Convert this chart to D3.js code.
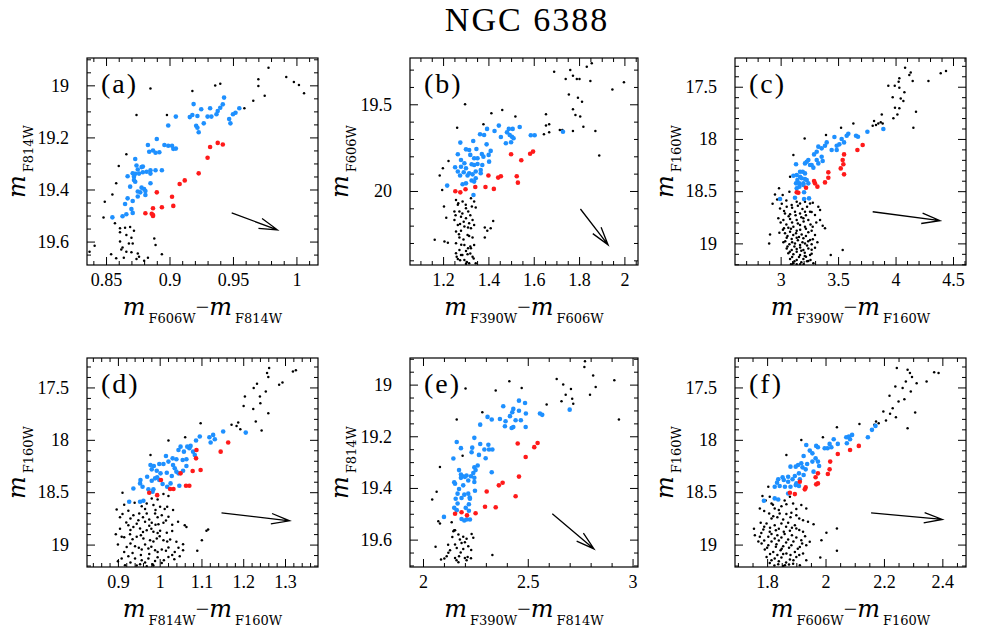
<!DOCTYPE html>
<html>
<head>
<meta charset="utf-8">
<script src="https://cdn.jsdelivr.net/npm/d3@7"></script>
<style>
  body { margin: 0; background: #fff; }
  svg { display: block; }
</style>
</head>
<body>
<script>
// ---- panel setup ----
const panelIds = ['a', 'b', 'c', 'd', 'e', 'f'];
const xFilters = [['F606W', 'F814W'], ['F390W', 'F606W'], ['F390W', 'F160W'],
                  ['F814W', 'F160W'], ['F390W', 'F814W'], ['F606W', 'F160W']];
const yFilters = ['F814W', 'F606W', 'F160W', 'F160W', 'F814W', 'F160W'];
const xDomains = [[0.835, 1.017], [1.054, 2.06], [2.603, 4.613], [0.826, 1.379], [1.938, 3.026], [1.69, 2.481]];
const yDomains = [[18.895, 19.69], [19.233, 20.427], [17.225, 19.207], [17.219, 19.214], [18.897, 19.706], [17.219, 19.214]];
const xTicks = [[0.85, 0.9, 0.95, 1], [1.2, 1.4, 1.6, 1.8, 2], [3, 3.5, 4, 4.5], [0.9, 1, 1.1, 1.2, 1.3], [2, 2.5, 3], [1.8, 2, 2.2, 2.4]];
const xMinor = [0.01, 0.05, 0.1, 0.02, 0.1, 0.05];
const yTicks = [[19, 19.2, 19.4, 19.6], [19.5, 20], [17.5, 18, 18.5, 19], [17.5, 18, 18.5, 19], [19, 19.2, 19.4, 19.6], [17.5, 18, 18.5, 19]];
const yMinor = [0.05, 0.1, 0.1, 0.1, 0.05, 0.1];

// ---- stars: [colour, magnitude] ----
const aBlack = [[0.885,19.012],[0.918,19.022],[0.936,19.001],[0.940,18.994],[0.970,18.977],[0.970,19.003],[0.975,19.040],[0.966,19.059],[0.959,19.088],[0.978,18.932],[0.992,18.968],[1.002,18.999],[1.006,19.03],[0.998,18.987],[0.874,19.114],[0.898,19.114],[0.866,19.265],[0.860,19.310],[0.858,19.376],[0.855,19.419],[0.849,19.447],[0.848,19.508],[0.857,19.530],[0.861,19.549],[0.865,19.547],[0.869,19.544],[0.872,19.558],[0.861,19.564],[0.866,19.575],[0.870,19.585],[0.861,19.600],[0.868,19.607],[0.871,19.607],[0.863,19.623],[0.862,19.630],[0.866,19.639],[0.888,19.588],[0.889,19.613],[0.854,19.649],[0.858,19.664],[0.864,19.662],[0.870,19.641],[0.875,19.646],[0.876,19.658],[0.874,19.667],[0.880,19.674],[0.883,19.662],[0.894,19.649],[0.841,19.616],[0.837,19.639]];
const aBlue = [[0.919,19.072],[0.905,19.120],[0.916,19.122],[0.918,19.114],[0.922,19.118],[0.921,19.155],[0.922,19.163],[0.923,19.180],[0.927,19.146],[0.930,19.120],[0.932,19.088],[0.925,19.092],[0.933,19.120],[0.937,19.111],[0.938,19.099],[0.940,19.086],[0.942,19.073],[0.943,19.047],[0.947,19.129],[0.948,19.146],[0.950,19.111],[0.952,19.105],[0.955,19.088],[0.899,19.154],[0.890,19.206],[0.883,19.229],[0.884,19.255],[0.887,19.250],[0.889,19.259],[0.892,19.257],[0.896,19.229],[0.899,19.232],[0.902,19.232],[0.903,19.244],[0.905,19.243],[0.873,19.283],[0.874,19.308],[0.878,19.314],[0.879,19.312],[0.875,19.323],[0.871,19.338],[0.873,19.340],[0.867,19.349],[0.872,19.351],[0.876,19.339],[0.879,19.334],[0.882,19.332],[0.885,19.326],[0.889,19.326],[0.894,19.326],[0.885,19.339],[0.872,19.364],[0.873,19.370],[0.869,19.389],[0.878,19.393],[0.880,19.398],[0.881,19.406],[0.875,19.408],[0.877,19.411],[0.885,19.376],[0.867,19.434],[0.871,19.444],[0.875,19.427],[0.881,19.421],[0.870,19.475],[0.865,19.456],[0.871,19.490],[0.866,19.495],[0.863,19.503],[0.855,19.507]];
const aRed = [[0.938,19.221],[0.942,19.227],[0.932,19.237],[0.930,19.278],[0.923,19.338],[0.912,19.365],[0.908,19.379],[0.890,19.411],[0.902,19.428],[0.887,19.472],[0.894,19.468],[0.903,19.463],[0.881,19.491],[0.886,19.493],[0.887,19.498],[0.887,19.502]];
const aArrow = [[0.949, 19.490], [0.985, 19.555]];

const bBlack = [[1.690,19.312],[1.761,19.302],[1.741,19.354],[1.773,19.335],[1.790,19.354],[1.802,19.354],[1.834,19.283],[1.856,19.264],[1.850,19.366],[1.998,19.373],[1.947,19.414],[1.755,19.443],[1.795,19.462],[1.813,19.485],[1.773,19.529],[1.784,19.562],[1.805,19.571],[1.819,19.629],[1.872,19.654],[1.889,19.796],[1.297,19.500],[1.413,19.552],[1.461,19.533],[1.519,19.571],[1.654,19.558],[1.668,19.615],[1.654,19.623],[1.645,19.673],[1.668,19.662],[1.715,19.648],[1.726,19.648],[1.773,19.654],[1.378,19.615],[1.262,19.635],[1.224,19.827],[1.199,19.869],[1.185,19.911],[1.196,19.994],[1.204,20.090],[1.214,20.154],[1.163,20.282],[1.206,20.292],[1.221,20.298],[1.257,20.052],[1.267,20.071],[1.286,20.061],[1.323,20.042],[1.337,20.061],[1.250,20.119],[1.272,20.119],[1.301,20.100],[1.311,20.119],[1.327,20.090],[1.344,20.096],[1.279,20.148],[1.301,20.157],[1.330,20.167],[1.250,20.167],[1.291,20.177],[1.315,20.186],[1.265,20.196],[1.294,20.205],[1.337,20.196],[1.257,20.234],[1.279,20.230],[1.323,20.215],[1.308,20.254],[1.272,20.269],[1.330,20.269],[1.257,20.302],[1.294,20.311],[1.320,20.321],[1.337,20.311],[1.272,20.340],[1.301,20.346],[1.323,20.330],[1.257,20.359],[1.279,20.369],[1.308,20.365],[1.330,20.379],[1.265,20.392],[1.294,20.398],[1.315,20.417],[1.301,20.42],[1.344,20.417],[1.421,20.173],[1.410,20.215],[1.384,20.211],[1.395,20.230],[1.384,20.269],
  [1.265,20.08],[1.30,20.08],[1.255,20.14],[1.285,20.13],[1.32,20.14],[1.275,20.19],[1.31,20.21],[1.27,20.25],[1.29,20.28],[1.315,20.26],[1.28,20.31],[1.31,20.33],[1.285,20.37],[1.32,20.36],[1.275,20.40],[1.305,20.41],[1.335,20.39],[1.26,20.38]];
const bBlue = [[1.446,19.623],[1.394,19.642],[1.427,19.654],[1.363,19.673],[1.381,19.677],[1.490,19.642],[1.507,19.642],[1.538,19.631],[1.482,19.662],[1.494,19.677],[1.504,19.687],[1.455,19.689],[1.511,19.696],[1.477,19.725],[1.500,19.719],[1.587,19.679],[1.604,19.679],[1.729,19.658],[1.276,19.721],[1.333,19.712],[1.392,19.731],[1.301,19.760],[1.315,19.764],[1.347,19.758],[1.410,19.769],[1.371,19.787],[1.401,19.792],[1.265,19.788],[1.279,19.821],[1.320,19.792],[1.337,19.811],[1.352,19.811],[1.378,19.802],[1.294,19.840],[1.301,19.869],[1.326,19.846],[1.337,19.850],[1.253,19.863],[1.279,19.860],[1.352,19.844],[1.373,19.850],[1.403,19.831],[1.265,19.888],[1.291,19.892],[1.315,19.898],[1.344,19.888],[1.366,19.879],[1.275,19.911],[1.308,19.911],[1.330,19.904],[1.366,19.898],[1.326,19.940],[1.337,19.946],[1.344,19.927],[1.286,19.961],[1.301,19.956],[1.218,19.969],[1.334,20.023]];
const bRed = [[1.500,19.788],[1.545,19.823],[1.584,19.785],[1.597,19.773],[1.400,19.911],[1.443,19.923],[1.455,19.915],[1.525,19.915],[1.530,19.952],[1.387,19.977],[1.424,19.988],[1.342,19.977],[1.299,19.990],[1.254,20.002],[1.276,20.008]];
const bArrow = [[1.806, 20.104], [1.928, 20.311]];

const cBlack = [[4.083,17.318],[4.132,17.363],[4.120,17.388],[4.149,17.446],[4.033,17.420],[4.027,17.452],[3.993,17.490],[3.937,17.490],[4.033,17.510],[4.286,17.446],[4.393,17.372],[4.439,17.350],[4.077,17.554],[3.975,17.602],[4.045,17.612],[4.068,17.637],[3.995,17.701],[4.033,17.707],[4.178,17.739],[4.016,17.765],[3.981,17.803],[4.155,17.892],[3.880,17.765],[3.813,17.829],[3.830,17.867],[3.850,17.851],[3.871,17.841],[3.888,17.851],[3.801,17.873],[3.633,17.851],[3.526,17.892],[3.395,17.963],[3.209,17.995],[2.951,18.531],[2.986,18.473],[3.018,18.537],[3.082,18.362],[3.111,18.154],[3.076,18.505],[2.995,18.665],[3.053,18.649],[3.096,18.633],[3.140,18.601],[3.169,18.617],[3.212,18.601],[3.256,18.617],[3.328,18.649],[3.343,18.681],[3.038,18.713],[3.082,18.722],[3.125,18.697],[3.169,18.713],[3.212,18.697],[3.256,18.697],[3.299,18.729],[2.980,18.760],[3.024,18.776],[3.082,18.767],[3.140,18.776],[3.198,18.760],[3.241,18.776],[3.343,18.776],[3.366,18.831],[3.386,18.856],[3.029,18.856],[3.067,18.850],[3.111,18.840],[3.169,18.824],[3.212,18.840],[3.279,18.840],[2.908,18.914],[2.989,18.898],[3.038,18.904],[3.082,18.888],[3.134,18.904],[3.183,18.914],[3.241,18.894],[3.299,18.920],[3.053,18.945],[3.096,18.958],[3.140,18.945],[3.198,18.952],[3.256,18.968],[3.024,18.990],[3.076,19.009],[3.125,19.000],[3.169,19.016],[3.212,19.000],[3.270,19.009],[3.053,19.048],[3.096,19.064],[3.140,19.054],[3.198,19.064],[3.241,19.048],[3.299,19.041],[3.067,19.095],[3.111,19.105],[3.169,19.111],[3.221,19.127],[3.256,19.111],[3.082,19.150],[3.140,19.159],[3.198,19.150],[3.241,19.169],[3.111,19.191],[3.169,19.201],[3.285,19.191],[3.436,19.111],[3.540,19.064],
  [2.97,18.58],[3.01,18.62],[3.05,18.59],[3.10,18.66],[3.15,18.64],[3.19,18.67],[3.23,18.65],[3.28,18.61],[3.03,18.69],[3.07,18.74],[3.13,18.73],[3.18,18.75],[3.22,18.73],[3.27,18.70],[3.00,18.80],[3.05,18.82],[3.10,18.80],[3.15,18.81],[3.20,18.79],[3.26,18.82],[3.31,18.80],[3.02,18.87],[3.09,18.86],[3.14,18.88],[3.17,18.87],[3.22,18.86],[3.27,18.88],[3.06,18.93],[3.11,18.92],[3.16,18.94],[3.22,18.93],[3.28,18.96],[3.04,18.98],[3.10,18.99],[3.15,18.97],[3.19,18.99],[3.24,18.98],[3.32,18.99],[3.06,19.03],[3.12,19.03],[3.17,19.04],[3.23,19.02],[3.27,19.06],[3.08,19.08],[3.14,19.08],[3.18,19.07],[3.21,19.09],[3.27,19.10],[3.10,19.13],[3.16,19.13],[3.21,19.12],[3.12,19.17],[3.18,19.18],[3.23,19.17],[3.09,19.20],[3.14,19.20],[3.20,19.20],[3.26,19.16],[2.93,18.62],[2.90,19.00]];
const cBlue = [[3.894,17.905],[3.755,17.931],[3.673,17.979],[3.656,17.969],[3.589,17.950],[3.575,17.969],[3.531,18.001],[3.552,18.033],[3.511,18.052],[3.488,18.065],[3.468,17.982],[3.401,18.033],[3.386,18.065],[3.357,18.090],[3.328,18.074],[3.314,18.122],[3.488,18.106],[3.444,18.106],[3.291,18.148],[3.241,18.202],[3.227,18.218],[3.212,18.234],[3.256,18.250],[3.270,18.250],[3.285,18.275],[3.314,18.202],[3.357,18.170],[3.366,18.211],[3.328,18.234],[3.134,18.243],[3.169,18.314],[3.192,18.314],[3.212,18.330],[3.111,18.352],[3.140,18.346],[3.169,18.362],[3.183,18.377],[3.212,18.384],[3.227,18.393],[3.146,18.393],[3.134,18.425],[3.163,18.425],[3.198,18.425],[3.241,18.425],[3.140,18.473],[3.163,18.457],[3.198,18.441],[3.125,18.563],[3.204,18.511],[3.204,18.575],[3.247,18.569],[2.995,18.575]];
const cRed = [[3.714,18.058],[3.668,18.106],[3.552,18.148],[3.540,18.202],[3.546,18.243],[3.523,18.282],[3.552,18.339],[3.415,18.320],[3.415,18.371],[3.386,18.416],[3.291,18.403],[3.299,18.425],[3.320,18.457],[3.221,18.467],[3.140,18.511],[3.154,18.515]];
const cArrow = [[3.801, 18.697], [4.387, 18.783]];

const dBlack = [[1.319,17.347],[1.326,17.337],[1.262,17.315],[1.257,17.363],[1.260,17.401],[1.294,17.452],[1.286,17.475],[1.233,17.465],[1.225,17.506],[1.254,17.538],[1.240,17.586],[1.204,17.586],[1.241,17.650],[1.224,17.707],[1.201,17.676],[1.260,17.746],[1.230,17.826],[1.244,17.912],[1.188,17.835],[1.193,17.899],[1.184,17.867],[1.172,17.857],[1.098,17.841],[1.061,17.975],[1.021,18.007],[0.978,18.145],[0.911,18.505],[1.009,18.518],[1.021,18.537],[0.981,18.559],[0.995,18.569],[0.969,18.607],[0.957,18.633],[0.985,18.623],[1.001,18.639],[1.018,18.639],[1.032,18.671],[0.897,18.665],[0.911,18.709],[0.925,18.677],[0.937,18.719],[0.951,18.703],[0.969,18.703],[0.989,18.703],[1.005,18.719],[1.021,18.735],[1.044,18.783],[0.949,18.767],[0.965,18.783],[0.981,18.792],[0.997,18.805],[1.009,18.792],[0.925,18.815],[0.937,18.831],[0.953,18.847],[0.969,18.863],[0.985,18.878],[1.001,18.869],[1.017,18.888],[1.060,18.815],[1.064,18.831],[1.116,18.856],[1.112,18.869],[1.101,18.958],[1.090,19.060],[0.895,18.901],[0.909,18.926],[0.929,18.901],[0.945,18.926],[0.961,18.942],[0.977,18.958],[0.993,18.942],[1.009,18.958],[1.025,18.952],[1.040,18.974],[1.056,18.997],[0.921,19.022],[0.941,19.016],[0.957,19.048],[0.973,19.038],[0.989,19.054],[1.005,19.048],[1.021,19.028],[1.036,19.070],[0.909,19.134],[0.925,19.112],[0.941,19.134],[0.957,19.150],[0.973,19.134],[0.989,19.156],[1.005,19.175],[1.021,19.118],[1.048,19.112],[0.917,19.198],[0.953,19.188],[0.969,19.207],[0.983,19.188],[1.056,19.054],
  [0.915,18.62],[0.94,18.60],[0.965,18.66],[0.99,18.67],[1.012,18.66],[0.905,18.74],[0.93,18.75],[0.96,18.74],[0.975,18.76],[0.995,18.74],[1.015,18.77],[0.92,18.79],[0.945,18.80],[0.975,18.82],[0.99,18.81],[1.03,18.81],[0.905,18.85],[0.93,18.86],[0.96,18.88],[0.98,18.85],[0.995,18.89],[1.03,18.87],[0.915,18.93],[0.935,18.95],[0.955,18.91],[0.985,18.97],[1.00,18.92],[1.018,18.97],[0.90,19.00],[0.93,18.99],[0.95,19.03],[0.965,19.00],[0.98,19.02],[0.995,19.07],[1.015,19.06],[1.045,19.03],[0.915,19.07],[0.935,19.08],[0.955,19.10],[0.975,19.09],[0.995,19.12],[1.03,19.10],[0.90,19.16],[0.93,19.17],[0.965,19.17],[0.985,19.20],[1.01,19.15],[1.035,19.14],[0.945,19.20]];
const dBlue = [[1.206,17.931],[1.152,17.921],[1.128,17.953],[1.132,17.995],[1.122,18.026],[1.119,17.975],[1.096,17.969],[1.087,18.007],[1.074,18.058],[1.071,18.081],[1.066,18.065],[1.050,18.065],[1.045,18.097],[1.058,18.113],[1.064,18.186],[1.080,18.113],[1.084,18.145],[1.055,18.192],[1.040,18.186],[1.031,18.177],[1.015,18.154],[1.021,18.208],[1.009,18.231],[0.999,18.231],[0.986,18.250],[0.978,18.240],[0.981,18.282],[0.993,18.295],[1.002,18.320],[1.017,18.314],[1.032,18.240],[1.036,18.272],[1.040,18.304],[1.045,18.320],[1.056,18.295],[1.064,18.250],[1.029,18.346],[0.994,18.358],[0.999,18.384],[0.989,18.368],[0.981,18.390],[0.970,18.352],[0.954,18.384],[0.953,18.416],[0.959,18.448],[0.937,18.464],[0.973,18.473],[0.983,18.496],[1.007,18.422],[1.018,18.448],[1.026,18.416],[1.047,18.438],[0.927,18.591],[0.953,18.591],[0.961,18.582],[0.985,18.473]];
const dRed = [[1.164,18.026],[1.146,18.113],[1.088,18.097],[1.087,18.177],[1.098,18.288],[1.079,18.298],[1.050,18.320],[1.063,18.438],[1.071,18.438],[1.025,18.470],[1.033,18.470],[1.003,18.384],[0.975,18.505],[0.994,18.528]];
const dArrow = [[1.148, 18.697], [1.311, 18.773]];

const eBlack = [[2.773,18.910],[2.770,18.932],[2.812,18.965],[2.638,18.978],[2.669,19.000],[2.706,19.017],[2.681,19.039],[2.712,19.055],[2.717,19.074],[2.661,19.064],[2.797,19.039],[2.824,19.009],[2.913,18.983],[2.935,19.135],[2.590,19.077],[2.471,19.013],[2.412,18.987],[2.347,19.023],[2.203,19.015],[2.283,19.107],[2.161,19.135],[2.189,19.275],[2.081,19.319],[2.065,19.415],[2.044,19.445],[2.073,19.529],[2.081,19.538],[2.137,19.533],[2.149,19.564],[2.145,19.568],[2.153,19.564],[2.169,19.580],[2.192,19.589],[2.176,19.600],[2.208,19.597],[2.232,19.578],[2.240,19.593],[2.184,19.613],[2.153,19.619],[2.129,19.641],[2.161,19.632],[2.192,19.636],[2.216,19.626],[2.121,19.651],[2.102,19.673],[2.172,19.664],[2.200,19.671],[2.213,19.667],[2.229,19.672],[2.208,19.680],[2.086,19.677],[2.113,19.664],[2.153,19.671],[2.169,19.688],[2.060,19.628],[2.331,19.660],
  [2.14,19.59],[2.20,19.61],[2.18,19.65],[2.23,19.64],[2.12,19.62],[2.16,19.68]];
const eBlue = [[2.458,19.062],[2.487,19.071],[2.383,19.084],[2.431,19.094],[2.426,19.107],[2.458,19.101],[2.491,19.112],[2.415,19.122],[2.442,19.138],[2.467,19.138],[2.308,19.125],[2.328,19.135],[2.367,19.133],[2.394,19.142],[2.391,19.161],[2.423,19.168],[2.431,19.164],[2.490,19.164],[2.558,19.112],[2.569,19.117],[2.700,19.097],[2.273,19.155],[2.161,19.222],[2.245,19.206],[2.181,19.246],[2.235,19.244],[2.232,19.262],[2.273,19.230],[2.312,19.233],[2.293,19.251],[2.315,19.251],[2.331,19.251],[2.267,19.272],[2.299,19.285],[2.145,19.286],[2.261,19.313],[2.245,19.320],[2.251,19.331],[2.240,19.342],[2.328,19.339],[2.172,19.331],[2.181,19.348],[2.189,19.355],[2.200,19.357],[2.181,19.361],[2.208,19.352],[2.229,19.355],[2.245,19.361],[2.149,19.378],[2.153,19.384],[2.192,19.390],[2.216,19.371],[2.245,19.377],[2.172,19.404],[2.248,19.411],[2.165,19.422],[2.197,19.426],[2.216,19.422],[2.223,19.437],[2.224,19.442],[2.156,19.442],[2.184,19.439],[2.165,19.460],[2.219,19.463],[2.204,19.477],[2.149,19.477],[2.161,19.486],[2.219,19.488],[2.100,19.512],[2.184,19.520],[2.197,19.526],[2.208,19.522],[2.224,19.522]];
const eRed = [[2.452,19.228],[2.547,19.226],[2.531,19.242],[2.490,19.280],[2.458,19.356],[2.380,19.380],[2.362,19.390],[2.304,19.414],[2.442,19.432],[2.296,19.473],[2.347,19.475],[2.153,19.500],[2.184,19.494],[2.210,19.506],[2.251,19.498]];
const eArrow = [[2.617, 19.500], [2.816, 19.636]];

const fBlack = [[2.244,17.315],[2.281,17.331],[2.289,17.363],[2.296,17.401],[2.275,17.443],[2.312,17.459],[2.346,17.443],[2.372,17.356],[2.387,17.363],[2.239,17.490],[2.264,17.506],[2.292,17.538],[2.219,17.580],[2.250,17.634],[2.270,17.612],[2.230,17.698],[2.198,17.730],[2.221,17.752],[2.241,17.784],[2.307,17.739],[2.281,17.889],[2.207,17.816],[2.173,17.826],[2.182,17.841],[2.167,17.857],[2.116,17.848],[2.039,17.880],[1.991,17.975],[1.917,18.001],[1.866,18.145],[1.804,18.448],[1.784,18.537],[1.775,18.655],[1.809,18.543],[1.815,18.607],[1.826,18.655],[1.849,18.633],[1.866,18.614],[1.878,18.543],[1.889,18.607],[1.917,18.623],[1.934,18.655],[1.807,18.703],[1.821,18.729],[1.843,18.703],[1.866,18.709],[1.883,18.697],[1.900,18.719],[1.923,18.767],[1.940,18.783],[1.959,18.805],[1.778,18.792],[1.798,18.799],[1.826,18.815],[1.849,18.799],[1.872,18.792],[1.895,18.815],[1.787,18.856],[1.809,18.878],[1.830,18.863],[1.857,18.878],[1.878,18.869],[1.900,18.847],[1.923,18.878],[2.003,18.888],[2.039,18.847],[1.758,18.910],[1.775,18.926],[1.804,18.926],[1.826,18.942],[1.849,18.933],[1.872,18.952],[1.900,18.933],[1.917,18.958],[1.946,18.974],[1.986,18.958],[1.781,18.990],[1.804,19.006],[1.832,18.997],[1.855,19.016],[1.883,19.006],[1.912,19.022],[1.934,19.006],[1.792,19.048],[1.821,19.070],[1.846,19.054],[1.866,19.086],[1.895,19.070],[1.923,19.086],[1.798,19.118],[1.826,19.134],[1.849,19.124],[1.878,19.143],[1.900,19.118],[1.934,19.150],[1.982,19.124],[2.039,19.060],[1.809,19.175],[1.838,19.188],[1.861,19.198],[1.889,19.182],[1.912,19.198],[1.855,19.205],
  [1.795,18.58],[1.82,18.62],[1.84,18.67],[1.86,18.58],[1.90,18.66],[1.79,18.68],[1.815,18.75],[1.835,18.74],[1.855,18.76],[1.88,18.74],[1.91,18.75],[1.79,18.83],[1.81,18.84],[1.84,18.85],[1.865,18.83],[1.885,18.84],[1.91,18.86],[1.78,18.89],[1.815,18.90],[1.835,18.91],[1.86,18.90],[1.885,18.91],[1.93,18.92],[1.79,18.96],[1.815,18.97],[1.84,18.96],[1.865,18.98],[1.89,18.97],[1.92,18.99],[1.80,19.03],[1.83,19.02],[1.85,19.04],[1.875,19.03],[1.905,19.04],[1.81,19.09],[1.835,19.10],[1.855,19.09],[1.88,19.10],[1.91,19.10],[1.815,19.15],[1.84,19.16],[1.865,19.17],[1.89,19.15],[1.825,19.20],[1.875,19.19],[1.755,18.85],[1.77,18.97]];
const fBlue = [[2.171,17.867],[2.159,17.905],[2.145,17.975],[2.091,17.953],[2.080,17.969],[2.071,17.975],[2.084,17.995],[2.073,18.033],[2.042,18.039],[2.028,17.995],[2.014,18.039],[2.007,18.081],[2.020,18.071],[1.997,18.081],[1.974,18.071],[1.968,18.058],[1.934,18.049],[1.946,18.103],[1.955,18.129],[1.925,18.154],[1.966,18.177],[1.974,18.208],[1.978,18.250],[1.955,18.208],[1.937,18.231],[1.917,18.224],[1.906,18.240],[1.898,18.256],[1.880,18.256],[1.921,18.263],[1.932,18.282],[1.959,18.304],[1.909,18.320],[1.925,18.336],[1.895,18.346],[1.872,18.352],[1.853,18.358],[1.857,18.384],[1.838,18.377],[1.834,18.409],[1.872,18.400],[1.887,18.377],[1.912,18.377],[1.900,18.416],[1.909,18.441],[1.880,18.448],[1.861,18.448],[1.843,18.441],[1.826,18.448],[1.898,18.432],[1.872,18.512],[1.826,18.559],[1.838,18.569],[1.789,18.582]];
const fRed = [[2.114,18.058],[2.084,18.097],[2.042,18.135],[2.016,18.208],[2.014,18.282],[2.008,18.326],[1.974,18.320],[1.966,18.358],[1.968,18.425],[1.974,18.416],[1.932,18.454],[1.929,18.473],[1.912,18.400],[1.878,18.505],[1.895,18.518]];
const fArrow = [[2.156, 18.697], [2.400, 18.760]];

const blackSets = [aBlack, bBlack, cBlack, dBlack, eBlack, fBlack];
const blueSets = [aBlue, bBlue, cBlue, dBlue, eBlue, fBlue];
const redSets = [aRed, bRed, cRed, dRed, eRed, fRed];
const arrows = [aArrow, bArrow, cArrow, dArrow, eArrow, fArrow];

// ---- drawing ----
const width = 981, height = 635;
const cols = [[87, 318], [410, 638], [735, 966]];
const rows = [[58, 265], [358, 567]];
const serif = '"Liberation Serif", "Times New Roman", serif';
const subFont = '"DejaVu Serif", serif';

const svg = d3.select('body').append('svg')
  .attr('width', width)
  .attr('height', height);

svg.append('text')
  .attr('x', 527).attr('y', 31)
  .attr('text-anchor', 'middle')
  .style('font-family', serif)
  .style('font-size', '34px')
  .style('letter-spacing', '2px')
  .text('NGC 6388');

function minorValues(dom, step, majors) {
  const lo = Math.ceil(dom[0] / step - 1e-6), hi = Math.floor(dom[1] / step + 1e-6);
  return d3.range(lo, hi + 1).map(k => +(k * step).toFixed(4))
    .filter(v => !majors.some(m => Math.abs(m - v) < 1e-6));
}

function styleAxis(sel) {
  sel.attr('font-family', null).attr('font-size', null);
  sel.select('.domain').remove();
  sel.selectAll('line').attr('stroke', '#000').attr('stroke-width', 1);
  sel.selectAll('text').style('font-family', serif).style('font-size', '18px').attr('fill', '#000');
}

panelIds.forEach((id, i) => {
  const [x0, x1] = cols[i % 3];
  const [y0, y1] = rows[Math.floor(i / 3)];
  const x = d3.scaleLinear().domain(xDomains[i]).range([x0, x1]);
  const y = d3.scaleLinear().domain(yDomains[i]).range([y0, y1]);
  const g = svg.append('g');

  g.append('clipPath').attr('id', 'clip-' + id)
    .append('rect').attr('x', x0).attr('y', y0).attr('width', x1 - x0).attr('height', y1 - y0);

  const xm = minorValues(xDomains[i], xMinor[i], xTicks[i]);
  const ym = minorValues(yDomains[i], yMinor[i], yTicks[i]);

  // bottom / top
  g.append('g').attr('transform', `translate(0,${y1})`)
    .call(d3.axisBottom(x).tickValues(xTicks[i]).tickSize(-8).tickPadding(8).tickFormat(d => String(d)))
    .call(styleAxis);
  g.append('g').attr('transform', `translate(0,${y1})`)
    .call(d3.axisBottom(x).tickValues(xm).tickSize(-4).tickFormat(''))
    .call(styleAxis);
  g.append('g').attr('transform', `translate(0,${y0})`)
    .call(d3.axisTop(x).tickValues(xTicks[i]).tickSize(-8).tickFormat(''))
    .call(styleAxis);
  g.append('g').attr('transform', `translate(0,${y0})`)
    .call(d3.axisTop(x).tickValues(xm).tickSize(-4).tickFormat(''))
    .call(styleAxis);
  // left / right
  g.append('g').attr('transform', `translate(${x0},0)`)
    .call(d3.axisLeft(y).tickValues(yTicks[i]).tickSize(-8).tickPadding(18).tickFormat(d => String(d)))
    .call(styleAxis);
  g.append('g').attr('transform', `translate(${x0},0)`)
    .call(d3.axisLeft(y).tickValues(ym).tickSize(-4).tickFormat(''))
    .call(styleAxis);
  g.append('g').attr('transform', `translate(${x1},0)`)
    .call(d3.axisRight(y).tickValues(yTicks[i]).tickSize(-8).tickFormat(''))
    .call(styleAxis);
  g.append('g').attr('transform', `translate(${x1},0)`)
    .call(d3.axisRight(y).tickValues(ym).tickSize(-4).tickFormat(''))
    .call(styleAxis);

  g.append('rect')
    .attr('x', x0).attr('y', y0).attr('width', x1 - x0).attr('height', y1 - y0)
    .attr('fill', 'none').attr('stroke', '#000').attr('stroke-width', 1.2);

  const pts = g.append('g').attr('clip-path', `url(#clip-${id})`);
  pts.selectAll('circle.k').data(blackSets[i]).enter().append('circle')
    .attr('class', 'k')
    .attr('cx', d => x(d[0])).attr('cy', d => y(d[1])).attr('r', 1.25).attr('fill', '#000');
  pts.selectAll('circle.b').data(blueSets[i]).enter().append('circle')
    .attr('class', 'b')
    .attr('cx', d => x(d[0])).attr('cy', d => y(d[1])).attr('r', 2.3).attr('fill', '#1e90ff');
  pts.selectAll('circle.r').data(redSets[i]).enter().append('circle')
    .attr('class', 'r')
    .attr('cx', d => x(d[0])).attr('cy', d => y(d[1])).attr('r', 2.3).attr('fill', '#ff1a1a');

  // reddening arrow
  const [s, t] = arrows[i];
  const sx = x(s[0]), sy = y(s[1]), tx = x(t[0]), ty = y(t[1]);
  const ang = Math.atan2(ty - sy, tx - sx);
  const head = 19, spread = 16 * Math.PI / 180;
  const arrowPath = d3.path();
  arrowPath.moveTo(sx, sy); arrowPath.lineTo(tx, ty);
  arrowPath.moveTo(tx - head * Math.cos(ang - spread), ty - head * Math.sin(ang - spread));
  arrowPath.lineTo(tx, ty);
  arrowPath.lineTo(tx - head * Math.cos(ang + spread), ty - head * Math.sin(ang + spread));
  g.append('path').attr('d', arrowPath.toString())
    .attr('fill', 'none').attr('stroke', '#000').attr('stroke-width', 1.3);

  // panel letter
  g.append('text')
    .attr('x', x0 + 14).attr('y', y0 + 35)
    .style('font-family', serif).style('font-size', '28px').style('letter-spacing', '2px')
    .text(`(${id})`);

  // x title
  const xt = g.append('text')
    .attr('x', (x0 + x1) / 2).attr('y', y1 + 50)
    .attr('text-anchor', 'middle');
  xt.append('tspan').style('font-family', subFont).style('font-style', 'italic').style('font-size', '24px').text('m');
  xt.append('tspan').attr('dx', 3).attr('dy', 8).style('font-family', subFont).style('font-size', '13px').text(xFilters[i][0]);
  xt.append('tspan').attr('dy', -8).style('font-family', serif).style('font-size', '24px').text('\u2212');
  xt.append('tspan').style('font-family', subFont).style('font-style', 'italic').style('font-size', '24px').text('m');
  xt.append('tspan').attr('dx', 3).attr('dy', 8).style('font-family', subFont).style('font-size', '13px').text(xFilters[i][1]);

  // y title
  const yt = g.append('text')
    .attr('transform', `translate(${x0 - 62},${(y0 + y1) / 2}) rotate(-90)`)
    .attr('text-anchor', 'middle');
  yt.append('tspan').style('font-family', subFont).style('font-style', 'italic').style('font-size', '24px').text('m');
  yt.append('tspan').attr('dx', 3).attr('dy', 8).style('font-family', subFont).style('font-size', '13px').text(yFilters[i]);
});
</script>
</body>
</html>
